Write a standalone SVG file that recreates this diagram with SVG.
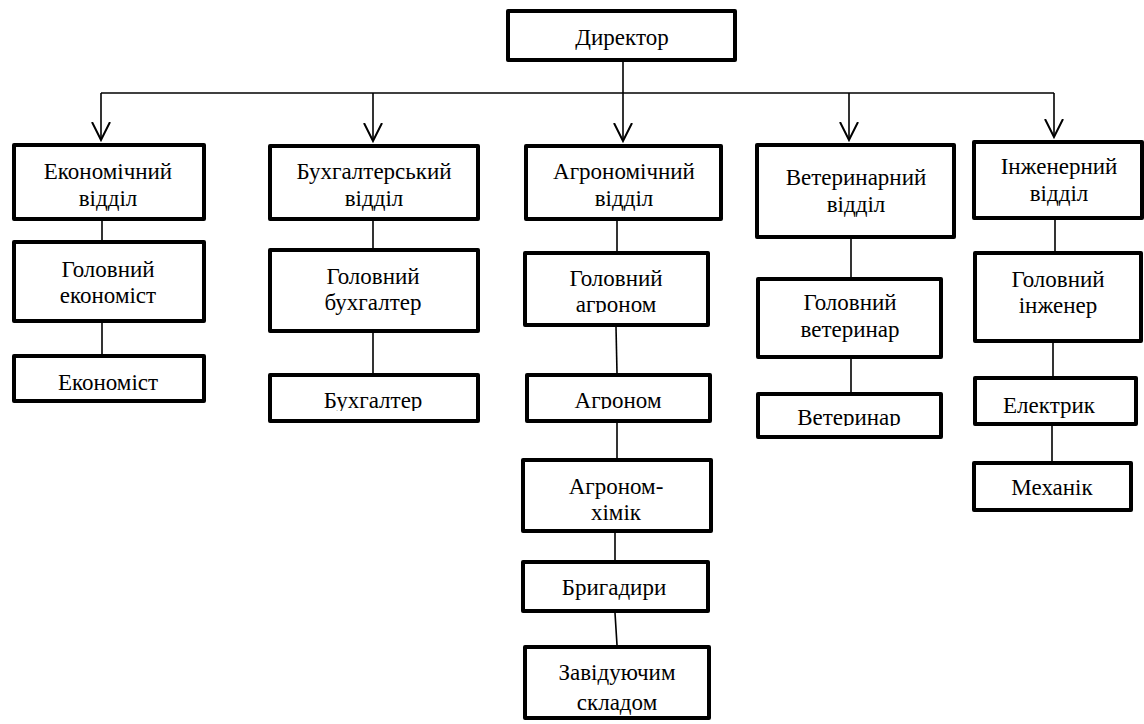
<svg xmlns="http://www.w3.org/2000/svg" width="1144" height="724" viewBox="0 0 1144 724">
<style>
.box{fill:#fff;stroke:#000;stroke-width:4;stroke-linejoin:round}
.t{font-size:23px;fill:#000;text-anchor:middle}
.c{stroke:#000;stroke-width:1.6;fill:none}
</style>
<defs>
<marker id="arr" viewBox="0 0 20 20" refX="18" refY="10" markerWidth="20" markerHeight="20" markerUnits="userSpaceOnUse" orient="auto">
<path d="M0,1 L18,10 L0,19" fill="none" stroke="#000" stroke-width="2"/>
</marker>
<clipPath id="clBuh"><rect x="268" y="373" width="212" height="38"/></clipPath>
<clipPath id="clGAgr"><rect x="523" y="251" width="187" height="62"/></clipPath>
<clipPath id="clAgr"><rect x="525" y="373" width="187" height="36"/></clipPath>
<clipPath id="clVet"><rect x="756" y="392" width="187" height="34"/></clipPath>
</defs>
<g id="connectors">
<line class="c" x1="623" y1="62" x2="623" y2="93"/>
<line class="c" x1="101" y1="93" x2="1054" y2="93"/>
<line class="c" x1="101" y1="93" x2="101" y2="140" marker-end="url(#arr)"/>
<line class="c" x1="373" y1="93" x2="373" y2="141" marker-end="url(#arr)"/>
<line class="c" x1="623" y1="93" x2="623" y2="141" marker-end="url(#arr)"/>
<line class="c" x1="849" y1="93" x2="849" y2="140" marker-end="url(#arr)"/>
<line class="c" x1="1054" y1="93" x2="1054" y2="137" marker-end="url(#arr)"/>
<line class="c" x1="102" y1="221" x2="102" y2="240"/>
<line class="c" x1="102" y1="323" x2="102" y2="354"/>
<line class="c" x1="373" y1="221" x2="373" y2="248"/>
<line class="c" x1="373" y1="333" x2="373" y2="373"/>
<line class="c" x1="617" y1="221" x2="617" y2="251"/>
<line class="c" x1="616" y1="327" x2="617" y2="373"/>
<line class="c" x1="617" y1="423" x2="617" y2="458"/>
<line class="c" x1="615" y1="533" x2="615" y2="560"/>
<line class="c" x1="615" y1="613" x2="617" y2="645"/>
<line class="c" x1="851" y1="239" x2="851" y2="277"/>
<line class="c" x1="851" y1="359" x2="851" y2="392"/>
<line class="c" x1="1055" y1="220" x2="1055" y2="251"/>
<line class="c" x1="1053" y1="343" x2="1053" y2="376"/>
<line class="c" x1="1052" y1="426" x2="1052" y2="461"/>
</g>
<g id="nodes" font-family="'Liberation Serif', 'DejaVu Serif', serif">
<g id="director"><rect class="box" x="508" y="11" width="227" height="49"/><text class="t" x="622" y="45">Директор</text></g>
<g id="econ-dept"><rect class="box" x="14" y="145" width="190" height="74"/><text class="t" x="108" y="179">Економічний</text><text class="t" x="108" y="206">відділ</text></g>
<g id="chief-econ"><rect class="box" x="14" y="242" width="190" height="79"/><text class="t" x="108" y="277">Головний</text><text class="t" x="108" y="303">економіст</text></g>
<g id="econ"><rect class="box" x="14" y="356" width="190" height="45"/><text class="t" x="108" y="390">Економіст</text></g>
<g id="acc-dept"><rect class="box" x="270" y="146" width="208" height="73"/><text class="t" x="374" y="179">Бухгалтерський</text><text class="t" x="374" y="206">відділ</text></g>
<g id="chief-acc"><rect class="box" x="270" y="250" width="208" height="81"/><text class="t" x="373" y="284">Головний</text><text class="t" x="373" y="310">бухгалтер</text></g>
<g id="acc"><rect class="box" x="270" y="375" width="208" height="46"/><text class="t" x="373" y="408" clip-path="url(#clBuh)">Бухгалтер</text></g>
<g id="agro-dept"><rect class="box" x="526" y="146" width="195" height="73"/><text class="t" x="624" y="179">Агрономічний</text><text class="t" x="624" y="206">відділ</text></g>
<g id="chief-agro"><rect class="box" x="525" y="253" width="183" height="72"/><text class="t" x="616" y="286">Головний</text><text class="t" x="616" y="312" clip-path="url(#clGAgr)">агроном</text></g>
<g id="agro"><rect class="box" x="527" y="375" width="183" height="46"/><text class="t" x="618" y="408" clip-path="url(#clAgr)">Агроном</text></g>
<g id="agro-chem"><rect class="box" x="523" y="460" width="188" height="71"/><text class="t" x="616" y="494">Агроном-</text><text class="t" x="616" y="520">хімік</text></g>
<g id="foremen"><rect class="box" x="523" y="562" width="185" height="49"/><text class="t" x="614" y="595">Бригадири</text></g>
<g id="storekeeper"><rect class="box" x="525" y="647" width="184" height="71"/><text class="t" x="617" y="680">Завідуючим</text><text class="t" x="617" y="710">складом</text></g>
<g id="vet-dept"><rect class="box" x="757" y="145" width="197" height="92"/><text class="t" x="856" y="185">Ветеринарний</text><text class="t" x="856" y="212">відділ</text></g>
<g id="chief-vet"><rect class="box" x="758" y="279" width="183" height="78"/><text class="t" x="850" y="310">Головний</text><text class="t" x="850" y="337">ветеринар</text></g>
<g id="vet"><rect class="box" x="758" y="394" width="183" height="43"/><text class="t" x="849" y="425" clip-path="url(#clVet)">Ветеринар</text></g>
<g id="eng-dept"><rect class="box" x="974" y="142" width="168" height="76"/><text class="t" x="1059" y="174">Інженерний</text><text class="t" x="1059" y="201">відділ</text></g>
<g id="chief-eng"><rect class="box" x="975" y="253" width="166" height="88"/><text class="t" x="1058" y="287">Головний</text><text class="t" x="1058" y="313">інженер</text></g>
<g id="electrician"><rect class="box" x="975" y="378" width="161" height="46"/><text class="t" x="1049" y="413">Електрик</text></g>
<g id="mechanic"><rect class="box" x="974" y="463" width="157" height="47"/><text class="t" x="1052" y="495">Механік</text></g>
</g>
</svg>
